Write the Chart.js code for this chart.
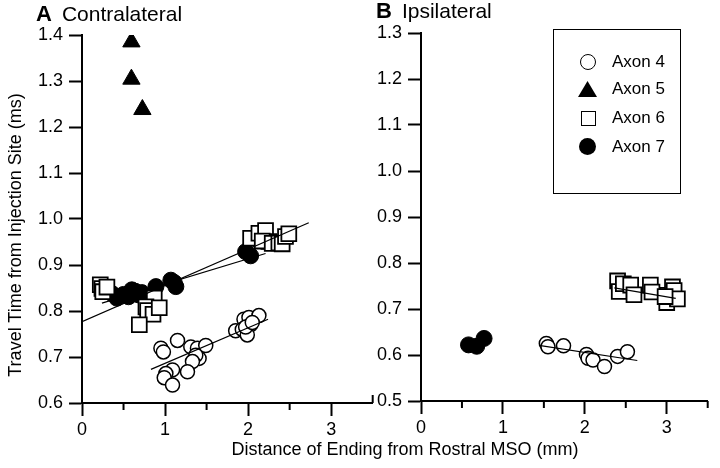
<!DOCTYPE html>
<html>
<head>
<meta charset="utf-8">
<script src="https://cdn.jsdelivr.net/npm/chart.js@4.4.1/dist/chart.umd.min.js"></script>
<style>
  body { margin: 0; background: #fff; font-family: "Liberation Sans", Arial, sans-serif; color: #000; }
  #wrap { position: relative; width: 720px; height: 468px; overflow: hidden; }
  canvas { position: absolute; top: 0; }
  .lbl { position: absolute; white-space: nowrap; line-height: 1; }
  .panel { font-size: 21px; }
  .panel b { font-size: 22px; margin-right: 10px; }
  #legend { position: absolute; left: 553px; top: 29px; width: 126px; height: 163px; border: 1.5px solid #000; }
  .row { position: absolute; left: 0; width: 120px; height: 20px; }
  .row span { position: absolute; left: 58px; top: 0px; font-size: 17px; line-height: 20px; white-space: nowrap; }
  .mk { position: absolute; box-sizing: border-box; }
</style>
</head>
<body>
<div id="wrap">
  <canvas id="chartA" width="385" height="468" style="left:0"></canvas>
  <canvas id="chartB" width="345" height="468" style="left:375px"></canvas>

  <div class="lbl panel" style="left:36px; top:3px"><b>A</b>Contralateral</div>
  <div class="lbl panel" style="left:376px; top:0px"><b>B</b>Ipsilateral</div>
  <div class="lbl" style="left:-185px; top:226px; width:400px; text-align:center; font-size:18px; transform:rotate(-90deg)">Travel Time from Injection Site (ms)</div>
  <div class="lbl" style="left:205px; top:440px; width:400px; text-align:center; font-size:18px">Distance of Ending from Rostral MSO (mm)</div>

  <div id="legend">
    <div class="row" style="top:22px"><div class="mk" style="left:26px; top:2px; width:16px; height:16px; border:1.5px solid #000; border-radius:50%"></div><span>Axon 4</span></div>
    <div class="row" style="top:49px"><div class="mk" style="left:24px; top:2px; width:19px; height:16px; background:#000; clip-path:polygon(50% 0, 100% 100%, 0 100%)"></div><span>Axon 5</span></div>
    <div class="row" style="top:78px"><div class="mk" style="left:27px; top:3px; width:15px; height:15px; border:1.5px solid #000"></div><span>Axon 6</span></div>
    <div class="row" style="top:107px"><div class="mk" style="left:25px; top:1px; width:17px; height:17px; background:#000; border-radius:50%"></div><span>Axon 7</span></div>
  </div>
</div>

<script>
// --- contralateral (A) ---
const a4X = [0.95, 0.98, 1.15, 1.31, 1.39, 1.49, 1.41, 1.37, 1.33, 1.27, 1.09, 1.01, 0.99, 1.09, 1.85, 1.95, 2.01, 2.13, 1.93, 2.03, 1.99, 1.97, 2.05];
const a4Y = [0.719, 0.711, 0.736, 0.722, 0.719, 0.725, 0.697, 0.704, 0.690, 0.668, 0.672, 0.664, 0.655, 0.639, 0.757, 0.782, 0.786, 0.790, 0.760, 0.770, 0.748, 0.765, 0.775];
const a5X = [0.595, 0.595, 0.727];
const a5Y = [1.385, 1.304, 1.238];
const a6X = [0.22, 0.24, 0.25, 0.30, 0.87, 0.77, 0.79, 0.855, 0.93, 0.69, 2.03, 2.13, 2.21, 2.25, 2.17, 2.29, 2.37, 2.41, 2.45, 2.49];
const a6Y = [0.857, 0.849, 0.842, 0.852, 0.828, 0.809, 0.801, 0.793, 0.807, 0.770, 0.958, 0.969, 0.975, 0.951, 0.952, 0.947, 0.948, 0.946, 0.962, 0.968];
const a7X = [0.36, 0.42, 0.50, 0.56, 0.60, 0.64, 0.68, 0.72, 0.89, 1.07, 1.11, 1.13, 1.97, 2.03];
const a7Y = [0.838, 0.828, 0.836, 0.831, 0.846, 0.843, 0.835, 0.840, 0.853, 0.867, 0.862, 0.853, 0.929, 0.920];
// fitted lines, end points
const fitA4X = [0.83, 2.24], fitA4Y = [0.673, 0.782];
const fitA6X = [0.00, 2.73], fitA6Y = [0.777, 0.992];
const fitA7X = [0.24, 2.21], fitA7Y = [0.817, 0.925];

// --- ipsilateral (B) ---
const b4X = [1.53, 1.55, 1.74, 2.02, 2.04, 2.10, 2.24, 2.40, 2.52];
const b4Y = [0.625, 0.618, 0.620, 0.601, 0.593, 0.589, 0.575, 0.597, 0.607];
const b6X = [2.40, 2.42, 2.47, 2.56, 2.60, 2.80, 2.82, 3.00, 3.01, 3.07, 3.09, 3.13, 2.98];
const b6Y = [0.761, 0.738, 0.755, 0.752, 0.731, 0.752, 0.737, 0.714, 0.730, 0.748, 0.740, 0.722, 0.727];
const b7X = [0.58, 0.68, 0.77];
const b7Y = [0.622, 0.619, 0.636];
const fitB4X = [1.44, 2.64], fitB4Y = [0.621, 0.588];
const fitB6X = [2.36, 3.11], fitB6Y = [0.746, 0.723];

const FONT = { family: '"Liberation Sans", Arial, sans-serif', size: 18 };

const pts = (xs, ys) => xs.map((x, i) => ({ x: x, y: ys[i] }));

const openCircle = (xs, ys) => ({ data: pts(xs, ys), pointStyle: 'circle', pointRadius: 7, backgroundColor: '#fff', borderColor: '#000', borderWidth: 1.5, order: 3 });
const triangle = (xs, ys) => ({ data: pts(xs, ys), pointStyle: 'triangle', pointRadius: 10, backgroundColor: '#000', borderColor: '#000', borderWidth: 1, order: 4 });
const openSquare = (xs, ys) => ({ data: pts(xs, ys), pointStyle: 'rect', pointRadius: 10.5, backgroundColor: '#fff', borderColor: '#000', borderWidth: 1.8, order: 1 });
const filledCircle = (xs, ys) => ({ data: pts(xs, ys), pointStyle: 'circle', pointRadius: 8, backgroundColor: '#000', borderColor: '#000', borderWidth: 1, order: 2 });
const fitLine = (xs, ys) => ({ data: pts(xs, ys), showLine: true, pointRadius: 0, borderColor: '#000', borderWidth: 1.2, order: 0 });

// half-mm ticks are shorter than the whole-mm ones
const minorTicks = {
  id: 'minorTicks',
  afterDraw(chart, args, opts) {
    const sc = chart.scales.x;
    const c = chart.ctx;
    c.save();
    c.strokeStyle = '#000';
    c.lineWidth = 2;
    sc.ticks.forEach(t => {
      if (t.value % 1 === 0) return;
      const px = sc.getPixelForValue(t.value);
      const up = opts.upLast && t.value === sc.max;
      c.beginPath();
      c.moveTo(px, sc.top);
      c.lineTo(px, up ? sc.top - 8 : sc.top + 7);
      c.stroke();
    });
    c.restore();
  }
};

function makeChart(id, datasets, yMin, yMax, yWidth, pad, upLast) {
  return new Chart(document.getElementById(id), {
    type: 'scatter',
    data: { datasets: datasets },
    plugins: [minorTicks],
    options: {
      responsive: false,
      animation: false,
      devicePixelRatio: 1,
      layout: { padding: pad },
      plugins: {
        legend: { display: false },
        tooltip: { enabled: false },
        minorTicks: { upLast: upLast }
      },
      scales: {
        x: {
          type: 'linear',
          min: 0,
          max: 3.5,
          afterFit: s => { s.height = 65; },
          border: { display: true, color: '#000', width: 2 },
          grid: {
            drawOnChartArea: false,
            tickLength: 13,
            tickWidth: 2,
            tickColor: c => (c.tick && c.tick.value % 1 === 0) ? '#000' : 'rgba(0,0,0,0)'
          },
          ticks: {
            stepSize: 0.5,
            maxRotation: 0,
            autoSkip: false,
            padding: 3,
            color: '#000',
            font: FONT,
            callback: v => (v % 1 === 0 ? String(v) : '')
          }
        },
        y: {
          min: yMin,
          max: yMax,
          afterFit: s => { s.width = yWidth; },
          border: { display: true, color: '#000', width: 2 },
          grid: { drawOnChartArea: false, tickLength: 13, tickWidth: 2, tickColor: '#000' },
          ticks: {
            stepSize: 0.1,
            padding: 6,
            color: '#000',
            font: FONT,
            callback: v => v.toFixed(1)
          }
        }
      }
    }
  });
}

makeChart('chartA', [
  fitLine(fitA6X, fitA6Y),
  fitLine(fitA7X, fitA7Y),
  fitLine(fitA4X, fitA4Y),
  openSquare(a6X, a6Y),
  filledCircle(a7X, a7Y),
  openCircle(a4X, a4Y),
  triangle(a5X, a5Y)
], 0.6, 1.4, 82, { left: 0, top: 35, right: 10.75, bottom: 0 }, true);

makeChart('chartB', [
  fitLine(fitB6X, fitB6Y),
  fitLine(fitB4X, fitB4Y),
  openSquare(b6X, b6Y),
  filledCircle(b7X, b7Y),
  openCircle(b4X, b4Y)
], 0.5, 1.3, 46, { left: 0, top: 33, right: 6, bottom: 2 }, false);
</script>
</body>
</html>
